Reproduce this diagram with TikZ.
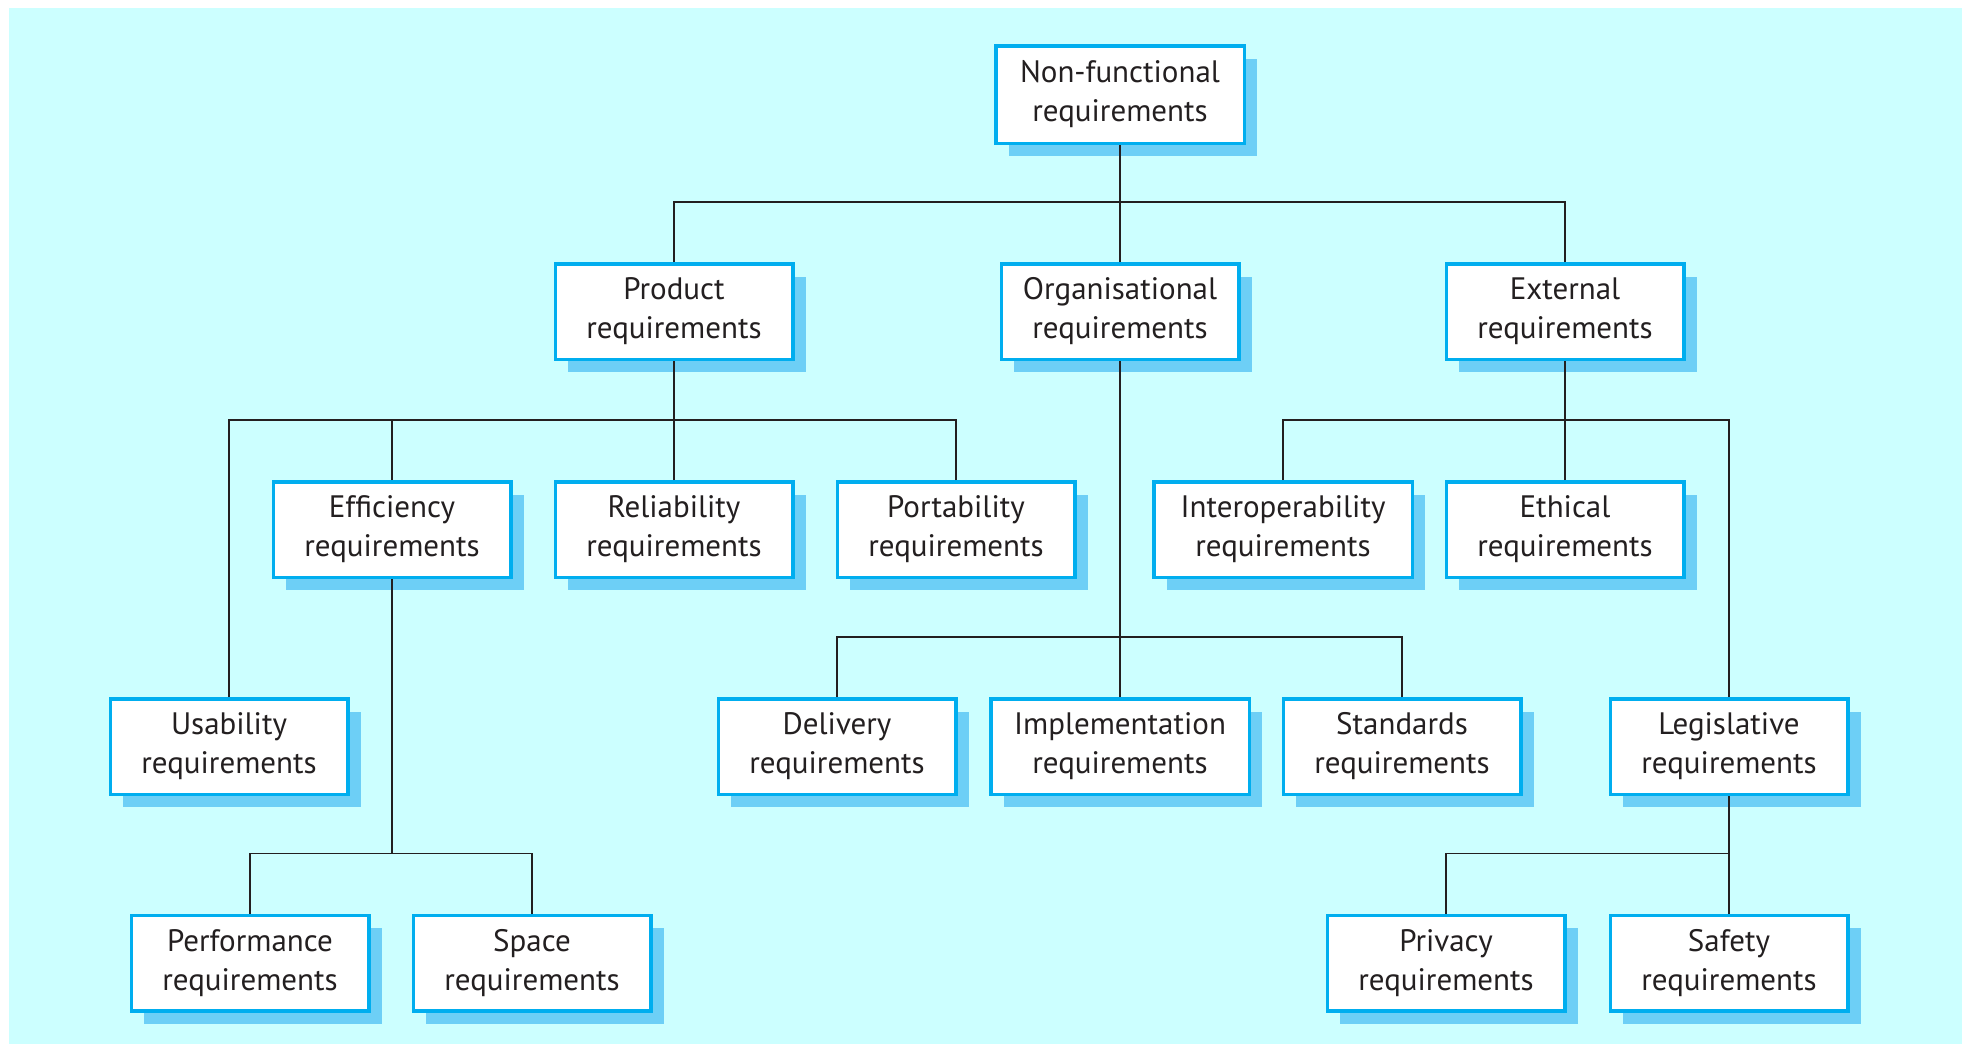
\documentclass[tikz,border=0pt]{standalone}
\usepackage{fontspec}
\setmainfont{PT Sans}
\usetikzlibrary{shadows}
\definecolor{bgcyan}{RGB}{204,255,255}
\definecolor{boxblue}{RGB}{0,174,239}
\definecolor{shadeblue}{RGB}{109,207,246}
\definecolor{linegrey}{RGB}{35,31,32}

\begin{document}
\begin{tikzpicture}[x=0.5pt, y=-0.5pt,
	req/.style={draw=boxblue, line width=1.75pt, fill=white, align=center,
		minimum width=118.75pt, minimum height=47.75pt, inner sep=0pt,
		font=\fontsize{15.5}{19.5}\selectfont, text=linegrey,
		drop shadow={shadow xshift=6.4pt, shadow yshift=-6.4pt, fill=shadeblue, opacity=1}},
	wide/.style={minimum width=129.25pt},
	link/.style={draw=linegrey, line width=0.9pt}]

		% background %
		\useasboundingbox (0,0) rectangle (1962,1044);
		\fill[bgcyan] (9,8) rectangle (1962,1044);

		% nodes - top levels %
		\node[req, minimum width=124.25pt, minimum height=48.75pt] (nfr) at (1120,94.5) {Non-functional\\requirements};
		\node[req] (prod) at (674,311.5) {Product\\requirements};
		\node[req] (org) at (1120,311.5) {Organisational\\requirements};
		\node[req] (ext) at (1565,311.5) {External\\requirements};

		% nodes - third row %
		\node[req] (eff) at (392,529.5) {Efficiency\\requirements};
		\node[req] (rel) at (674,529.5) {Reliability\\requirements};
		\node[req] (port) at (956,529.5) {Portability\\requirements};
		\node[req, wide] (interop) at (1283,529.5) {Interoperability\\requirements};
		\node[req] (ethical) at (1565,529.5) {Ethical\\requirements};

		% nodes - fourth row %
		\node[req] (usab) at (229,746.5) {Usability\\requirements};
		\node[req] (deliv) at (837,746.5) {Delivery\\requirements};
		\node[req, wide] (impl) at (1120,746.5) {Implementation\\requirements};
		\node[req] (stand) at (1402,746.5) {Standards\\requirements};
		\node[req] (legis) at (1729,746.5) {Legislative\\requirements};

		% nodes - bottom row %
		\node[req] (perf) at (250,963) {Performance\\requirements};
		\node[req] (space) at (532,963) {Space\\requirements};
		\node[req] (priv) at (1446,963) {Privacy\\requirements};
		\node[req] (safety) at (1729,963) {Safety\\requirements};

		% edges %
		\foreach \c/\p in {prod/nfr, org/nfr, ext/nfr, eff/prod, rel/prod, port/prod,
			interop/ext, ethical/ext, deliv/org, impl/org, stand/org,
			perf/eff, space/eff, priv/legis, safety/legis}
			\draw[link] (\c.north) -- ++(0,-60) -| (\p.south);
		\coordinate (pbus) at ([yshift=30pt]eff.north);
		\coordinate (ebus) at ([yshift=30pt]ethical.north);
		\draw[link] (usab.north) |- (pbus);
		\draw[link] (legis.north) |- (ebus);

\end{tikzpicture}
\end{document}
